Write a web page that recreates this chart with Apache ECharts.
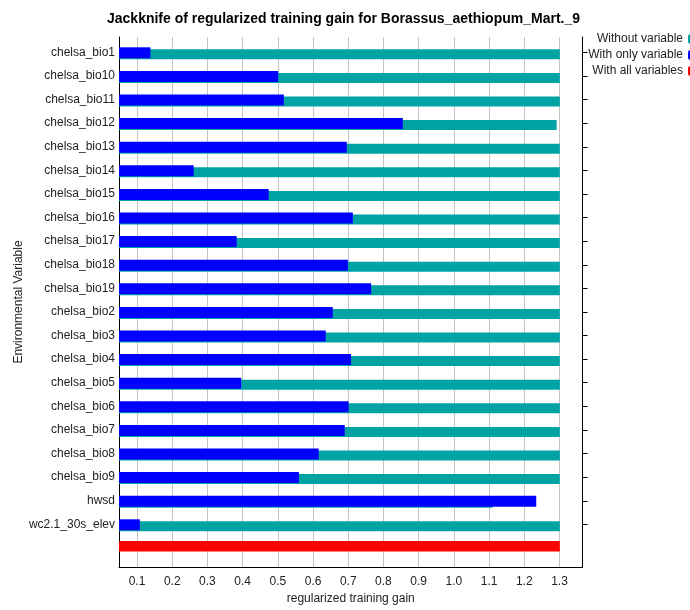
<!DOCTYPE html>
<html>
<head>
<meta charset="utf-8">
<script src="https://cdn.jsdelivr.net/npm/echarts@6/dist/echarts.min.js"></script>
<style>html,body{margin:0;padding:0;background:#fff;}#c{width:690px;height:610px;}</style>
</head>
<body>
<div id="c"></div>
<script>
const categories = ['chelsa_bio1','chelsa_bio10','chelsa_bio11','chelsa_bio12','chelsa_bio13','chelsa_bio14','chelsa_bio15','chelsa_bio16','chelsa_bio17','chelsa_bio18','chelsa_bio19','chelsa_bio2','chelsa_bio3','chelsa_bio4','chelsa_bio5','chelsa_bio6','chelsa_bio7','chelsa_bio8','chelsa_bio9','hwsd','wc2.1_30s_elev',''];
const withoutVariable = [1.301,1.301,1.301,1.292,1.301,1.301,1.301,1.301,1.301,1.301,1.301,1.301,1.301,1.301,1.301,1.301,1.301,1.301,1.301,1.110,1.301,'-'];
const withOnlyVariable = [0.138,0.501,0.517,0.855,0.696,0.261,0.474,0.713,0.383,0.699,0.765,0.656,0.636,0.708,0.396,0.701,0.690,0.616,0.560,1.234,0.108,'-'];
const withAllVariables = ['-','-','-','-','-','-','-','-','-','-','-','-','-','-','-','-','-','-','-','-','-',1.301];
const xMin = 0.0488, xMax = 1.3654;

const chart = echarts.init(document.getElementById('c'), null, {renderer:'canvas'});
const font = 'Liberation Sans, Arial, sans-serif';
chart.setOption({
  animation: false,
  backgroundColor: '#fff',
  textStyle: {fontFamily: font},
  title: {
    text: 'Jackknife of regularized training gain for Borassus_aethiopum_Mart._9',
    left: 102, top: 7,
    textStyle: {fontSize: 14, fontWeight: 'bold', color: '#000', fontFamily: font}
  },
  legend: {
    orient: 'vertical', align: 'right', right: -17, top: 28,
    itemWidth: 14, itemHeight: 10, itemGap: 4,
    data: ['Without variable','With only variable','With all variables'],
    textStyle: {fontSize: 12, color: '#222', fontFamily: font},
    selectedMode: false
  },
  grid: [
    {left: 119, right: 107.5, top: 37, bottom: 39},
    {left: 119, right: 107.5, top: 40.55, bottom: 50.25}
  ],
  xAxis: [
    {gridIndex: 0, type: 'value', min: xMin, max: xMax, splitNumber: 13, minInterval: 0.1, maxInterval: 0.1,
     axisLine: {show: true, lineStyle: {color: '#000', width: 1}},
     axisTick: {show: false},
     axisLabel: {fontSize: 12, color: '#222', margin: 9, showMinLabel: false, showMaxLabel: false,
                 formatter: v => v.toFixed(1)},
     splitLine: {show: true, lineStyle: {color: '#c4c4c4', width: 1}},
     name: 'regularized training gain', nameLocation: 'middle', nameGap: 26,
     nameTextStyle: {fontSize: 12, color: '#222'}},
    {gridIndex: 1, type: 'value', min: xMin, max: xMax, show: false}
  ],
  yAxis: [
    {gridIndex: 0, type: 'value', min: 0, max: 1, position: 'left',
     axisLine: {show: true, lineStyle: {color: '#000'}}, axisTick: {show: false},
     axisLabel: {show: false}, splitLine: {show: false},
     name: 'Environmental Variable', nameLocation: 'middle', nameGap: 94,
     nameTextStyle: {fontSize: 12, color: '#222'}},
    {gridIndex: 0, type: 'value', min: 0, max: 1, position: 'right',
     axisLine: {show: true, lineStyle: {color: '#000'}}, axisTick: {show: false},
     axisLabel: {show: false}, splitLine: {show: false}},
    {gridIndex: 1, type: 'category', data: categories, inverse: true, position: 'left',
     axisLine: {show: false}, axisTick: {show: false}, splitLine: {show: false},
     axisLabel: {fontSize: 12, color: '#222', margin: 4, interval: 0}},
    {gridIndex: 1, type: 'category', data: categories, inverse: true, position: 'right',
     axisLine: {show: false}, splitLine: {show: false}, axisLabel: {show: false},
     axisTick: {show: true, length: 5, alignWithLabel: true, interval: (i) => i < 21,
                lineStyle: {color: '#000'}}}
  ],
  series: [
    {name: 'With all variables', type: 'bar', xAxisIndex: 1, yAxisIndex: 2, data: withAllVariables,
     barWidth: 10.5, barGap: '-82%', itemStyle: {color: '#ff0000'}, z: 2},
    {name: 'With only variable', type: 'bar', xAxisIndex: 1, yAxisIndex: 2, data: withOnlyVariable,
     barWidth: 11, barGap: '-82%', itemStyle: {color: '#0000ff'}, z: 3},
    {name: 'Without variable', type: 'bar', xAxisIndex: 1, yAxisIndex: 2, data: withoutVariable,
     barWidth: 10, barGap: '-82%', itemStyle: {color: '#00a3a3'}, z: 2}
  ]
});
</script>
</body>
</html>
